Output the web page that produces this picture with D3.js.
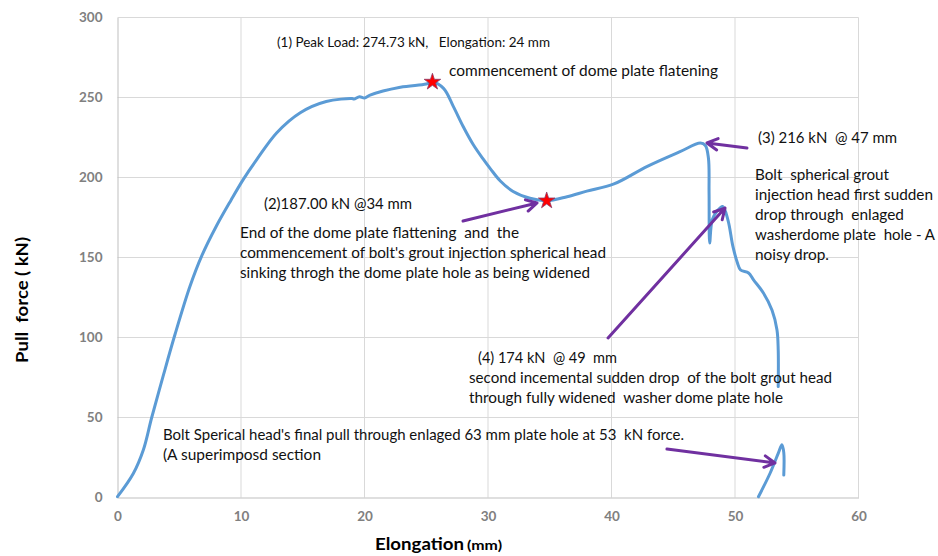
<!DOCTYPE html>
<html>
<head>
<meta charset="utf-8">
<script src="https://cdn.jsdelivr.net/npm/d3@7"></script>
<style>
  html, body { margin: 0; padding: 0; background: #fff; }
  svg { display: block; }
  text { white-space: pre; }
</style>
</head>
<body>
<script>
// Pull-out test: elongation (mm) against pull force (kN)
const elongation = [0, 1.28, 2.09, 2.77, 3.7, 4.66, 5.87, 6.82, 8.03, 9.2, 10.2, 11.3, 12.9, 14.8, 16.9,
  19.0, 19.15, 19.6, 20.0, 20.45, 22.9, 25.0, 25.5, 26.4, 27.2, 28.0, 28.8, 29.6, 30.2, 31.0, 32.0,
  33.4, 34.75, 36.4, 38.0, 40.2, 42.9, 45.5, 47.2, 47.6, 47.85, 47.9, 47.95, 48.15, 48.55, 49.0,
  49.43, 49.84, 50.2, 50.45, 51.1, 51.5, 52.3, 53.0, 53.4, 53.5, 53.5];
const pullForce = [0.5, 15, 29.7, 50, 76, 102, 132, 151, 170, 186, 199, 211.5, 228, 240.5, 247.5,
  249.3, 249, 250.5, 249.7, 251.5, 256.4, 258.4, 259.7, 255.7, 244.3, 231.7, 220.6, 211.6, 205.4, 197.8, 191.4,
  187, 185.5, 188, 191.5, 196, 207, 216, 221.5, 220, 212, 190, 159, 173.4, 179, 181.9,
  173.4, 156.6, 146.6, 142.2, 140.3, 136, 127.8, 117, 104.7, 92, 69.3];

// Superimposed final pull-through section
const sectionElongation = [51.9, 52.83, 53.5, 53.8, 53.95, 53.95];
const sectionForce = [0.5, 15, 27.6, 33, 28, 14];

// Marked points on the curve
const starElongation = [25.5, 34.75];
const starForce = [259.7, 185.5];

const xTicks = [0, 10, 20, 30, 40, 50, 60];
const yTicks = [0, 50, 100, 150, 200, 250, 300];

const W = 938, H = 556;
const plot = { left: 117.5, right: 858.5, top: 17.5, bottom: 497.5 };

const x = d3.scaleLinear().domain([0, 60]).range([plot.left, plot.right]);
const y = d3.scaleLinear().domain([0, 300]).range([plot.bottom, plot.top]);

const svg = d3.select("body").append("svg")
  .attr("width", W).attr("height", H)
  .attr("viewBox", `0 0 ${W} ${H}`);

// Gridlines
svg.append("g").selectAll("line.gy").data(yTicks.filter(d => d > 0)).join("line")
  .attr("x1", plot.left).attr("x2", plot.right)
  .attr("y1", d => y(d)).attr("y2", d => y(d))
  .attr("stroke", "#d9d9d9").attr("stroke-width", 1);
svg.append("g").selectAll("line.gx").data(xTicks.filter(d => d > 0)).join("line")
  .attr("x1", d => x(d)).attr("x2", d => x(d))
  .attr("y1", plot.top).attr("y2", plot.bottom)
  .attr("stroke", "#d9d9d9").attr("stroke-width", 1);

// Axes
const xAxis = svg.append("g")
  .attr("transform", `translate(0,${plot.bottom})`)
  .call(d3.axisBottom(x).tickValues(xTicks).tickSize(0).tickPadding(14));
const yAxis = svg.append("g")
  .attr("transform", `translate(${plot.left},0)`)
  .call(d3.axisLeft(y).tickValues(yTicks).tickSize(0).tickPadding(15));
[xAxis, yAxis].forEach(a => {
  a.select(".domain").attr("stroke", "#bfbfbf").attr("stroke-width", 1);
  a.selectAll("text")
    .attr("fill", "#808080")
    .attr("font-family", "Lato, 'Open Sans', sans-serif")
    .attr("font-weight", "bold")
    .attr("font-size", 13.5);
});

// Axis titles
svg.append("text")
  .attr("transform", "translate(28,300) rotate(-90)")
  .attr("text-anchor", "middle")
  .attr("font-family", "Lato, 'Open Sans', sans-serif")
  .attr("font-weight", "bold").attr("font-size", 17)
  .attr("fill", "#000")
  .attr("textLength", 126).attr("lengthAdjust", "spacingAndGlyphs")
  .text("Pull  force ( kN)");
svg.append("text")
  .attr("x", 375).attr("y", 550)
  .attr("font-family", "Lato, 'Open Sans', sans-serif")
  .attr("font-weight", "bold").attr("font-size", 17.5)
  .attr("fill", "#000")
  .attr("textLength", 89).attr("lengthAdjust", "spacingAndGlyphs")
  .text("Elongation");
svg.append("text")
  .attr("x", 467).attr("y", 550)
  .attr("font-family", "Lato, 'Open Sans', sans-serif")
  .attr("font-weight", "bold").attr("font-size", 13)
  .attr("fill", "#000")
  .attr("textLength", 35).attr("lengthAdjust", "spacingAndGlyphs")
  .text("(mm)");

// Curves
const line = d3.line()
  .x(d => x(d[0])).y(d => y(d[1]))
  .curve(d3.curveCatmullRom.alpha(0.5));

svg.append("path")
  .datum(elongation.map((e, i) => [e, pullForce[i]]))
  .attr("d", line)
  .attr("fill", "none").attr("stroke", "#5b9bd5")
  .attr("stroke-width", 3).attr("stroke-linejoin", "round").attr("stroke-linecap", "round");

svg.append("path")
  .datum(sectionElongation.map((e, i) => [e, sectionForce[i]]))
  .attr("d", line)
  .attr("fill", "none").attr("stroke", "#5b9bd5")
  .attr("stroke-width", 3).attr("stroke-linejoin", "round").attr("stroke-linecap", "round");

// Star markers
svg.append("g").selectAll("path").data(starElongation.map((e, i) => [e, starForce[i]])).join("path")
  .attr("transform", d => `translate(${x(d[0])},${y(d[1])})`)
  .attr("d", d3.symbol(d3.symbolStar, 85))
  .attr("fill", "#ff0000").attr("stroke", "#8a3c6a").attr("stroke-width", 0.8);

// Annotation arrows (in data units)
const arrows = [
  { from: [27.98, 172.8], to: [33.97, 184.1] },
  { from: [50.97, 218.4], to: [47.73, 221.6] },
  { from: [39.72, 99.7], to: [49.19, 180.9] },
  { from: [44.49, 30.3], to: [53.24, 21.6] }
];
const arrowG = svg.append("g")
  .attr("stroke", "#7030a0").attr("stroke-width", 3)
  .attr("fill", "none").attr("stroke-linecap", "round").attr("stroke-linejoin", "round");
arrows.forEach(a => {
  const x1 = x(a.from[0]), y1 = y(a.from[1]);
  const x2 = x(a.to[0]), y2 = y(a.to[1]);
  const ang = Math.atan2(y2 - y1, x2 - x1);
  const len = 12, spread = 0.5;
  const p = d3.path();
  p.moveTo(x1, y1); p.lineTo(x2, y2);
  p.moveTo(x2 - len * Math.cos(ang - spread), y2 - len * Math.sin(ang - spread));
  p.lineTo(x2, y2);
  p.lineTo(x2 - len * Math.cos(ang + spread), y2 - len * Math.sin(ang + spread));
  arrowG.append("path").attr("d", p.toString());
});

// Text notes
const notes = [
  { t: "(1) Peak Load: 274.73 kN,   Elongation: 24 mm", x: 277, y: 47, w: 273, s: 12.5 },
  { t: "commencement of dome plate flatening", x: 449, y: 76, w: 269, s: 15 },
  { t: "(2)187.00 kN @34 mm", x: 264, y: 209, w: 148, s: 15 },
  { t: "End of the dome plate flattening  and  the", x: 240, y: 238, w: 279, s: 15 },
  { t: "commencement of bolt's grout injection spherical head", x: 240, y: 258, w: 366, s: 15 },
  { t: "sinking throgh the dome plate hole as being widened", x: 240, y: 278, w: 350, s: 15 },
  { t: "(3) 216 kN  @ 47 mm", x: 758, y: 143, w: 139, s: 15 },
  { t: "Bolt  spherical grout", x: 755, y: 180, w: 134, s: 15 },
  { t: "injection head first sudden", x: 755, y: 200, w: 178, s: 15 },
  { t: "drop through  enlaged", x: 755, y: 220, w: 149, s: 15 },
  { t: "washerdome plate  hole - A", x: 755, y: 240, w: 180, s: 15 },
  { t: "noisy drop.", x: 755, y: 260, w: 74, s: 15 },
  { t: "(4) 174 kN  @ 49  mm", x: 478, y: 363, w: 139, s: 15 },
  { t: "second incemental sudden drop  of the bolt grout head", x: 469, y: 383, w: 363, s: 15 },
  { t: "through fully widened  washer dome plate hole", x: 469, y: 403, w: 314, s: 15 },
  { t: "Bolt Sperical head's final pull through enlaged 63 mm plate hole at 53  kN force.", x: 163, y: 440, w: 521, s: 15 },
  { t: "(A superimposd section", x: 163, y: 460, w: 158, s: 15 }
];
svg.append("g").selectAll("text").data(notes).join("text")
  .attr("x", d => d.x).attr("y", d => d.y)
  .attr("font-family", "Lato, 'Open Sans', sans-serif")
  .attr("font-size", d => d.s)
  .attr("fill", "#111")
  .attr("textLength", d => d.w).attr("lengthAdjust", "spacingAndGlyphs")
  .text(d => d.t);
</script>
</body>
</html>
